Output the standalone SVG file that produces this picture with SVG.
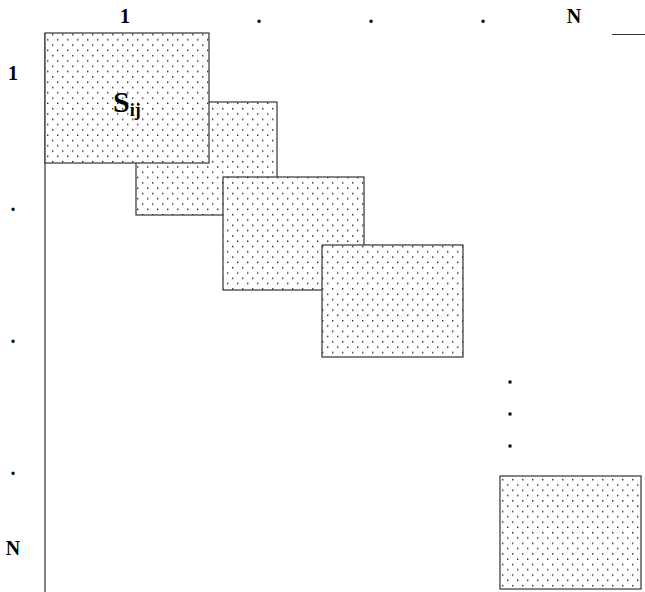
<svg xmlns="http://www.w3.org/2000/svg" width="645" height="592" viewBox="0 0 645 592">
<defs>
<pattern id="dots" patternUnits="userSpaceOnUse" x="0" y="0" width="10" height="10.6">
<rect x="0" y="0" width="10" height="10.6" fill="#fff"/>
<rect x="2" y="2" width="1.4" height="1.4" fill="#222"/>
<rect x="7" y="7.3" width="1.4" height="1.4" fill="#222"/>
</pattern>
<style>
.box{fill:url(#dots);stroke:#333;stroke-width:1.2}
.lbl{font-family:"Liberation Serif","Times New Roman",serif;font-weight:bold;font-size:20px;fill:#000}
.line{stroke:#333;stroke-width:1.2;fill:none}
</style>
</defs>
<g id="axes">
<line class="line" x1="45" y1="33" x2="45" y2="592"/>
<line class="line" x1="612" y1="34.5" x2="645" y2="34.5"/>
</g>
<g id="col-labels">
<text class="lbl" x="125" y="23" text-anchor="middle">1</text>
<text class="lbl" x="259" y="23" text-anchor="middle">.</text>
<text class="lbl" x="371" y="23" text-anchor="middle">.</text>
<text class="lbl" x="483" y="23" text-anchor="middle">.</text>
<text class="lbl" x="574" y="23" text-anchor="middle">N</text>
</g>
<g id="row-labels">
<text class="lbl" x="13" y="80" text-anchor="middle">1</text>
<text class="lbl" x="13" y="211" text-anchor="middle">.</text>
<text class="lbl" x="13" y="343" text-anchor="middle">.</text>
<text class="lbl" x="13" y="475" text-anchor="middle">.</text>
<text class="lbl" x="13" y="555" text-anchor="middle">N</text>
</g>
<g id="block2"><rect class="box" x="136" y="102" width="141" height="113"/></g>
<g id="block1">
<rect class="box" x="45" y="33" width="164" height="130"/>
<text x="113" y="112" style="font-family:'Liberation Serif','Times New Roman',serif;font-weight:bold;font-size:30px">S<tspan font-size="18" dy="4">ij</tspan></text>
</g>
<g id="block3"><rect class="box" x="223" y="177" width="141" height="113"/></g>
<g id="block4"><rect class="box" x="322" y="245" width="141" height="112"/></g>
<g id="ellipsis">
<rect x="508.5" y="380.5" width="3" height="3" fill="#000"/>
<rect x="508.5" y="412.5" width="3" height="3" fill="#000"/>
<rect x="508.5" y="444.5" width="3" height="3" fill="#000"/>
</g>
<g id="blockN"><rect class="box" x="500" y="476" width="141" height="113"/></g>
</svg>
